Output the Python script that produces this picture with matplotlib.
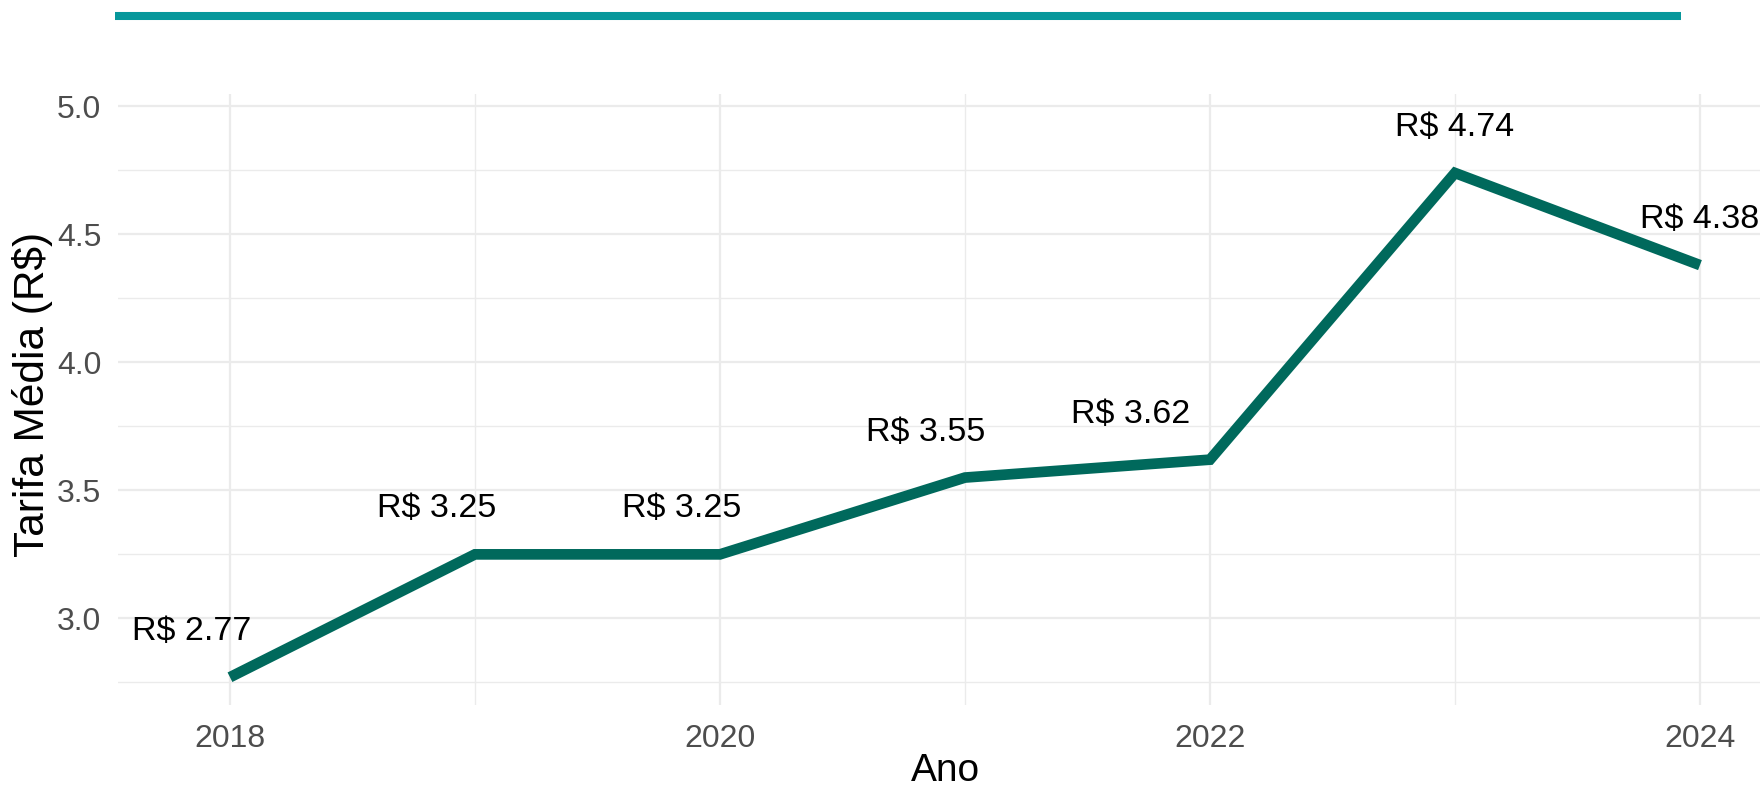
import matplotlib
matplotlib.use("Agg")
import matplotlib.pyplot as plt
from matplotlib.lines import Line2D
from matplotlib.ticker import MultipleLocator, FormatStrFormatter

years = [2018, 2019, 2020, 2021, 2022, 2023, 2024]
tarifa = [2.77, 3.25, 3.25, 3.55, 3.62, 4.74, 4.38]
labels = [f"R$ {v:.2f}" for v in tarifa]
# horizontal label shifts (pixels), as placed in the original
label_dx = [-38, -38, -38, -39, -79, 0, 0]

plt.rcParams["font.family"] = ["Liberation Sans", "DejaVu Sans"]

fig = plt.figure(figsize=(17.6, 7.89), dpi=100, facecolor="white")
W, H = 1760, 789
# panel runs slightly past the right edge, like the cropped original
ax = fig.add_axes([118 / W, 1 - 705 / H, (1772 - 118) / W, (705 - 94) / H])

ax.plot(years, tarifa, color="#00695c", linewidth=7.7, solid_joinstyle="miter",
        solid_capstyle="butt", zorder=3)

for x, y, txt, dx in zip(years, tarifa, labels, label_dx):
    ax.annotate(txt, xy=(x, y), xytext=(dx, 37), textcoords="offset pixels",
                ha="center", va="baseline", fontsize=24.5, color="black",
                zorder=4, annotation_clip=False)

ax.set_xlim(2017.543, 2024.294)
ax.set_ylim(2.6615, 5.0485)
ax.xaxis.set_major_locator(MultipleLocator(2))
ax.xaxis.set_minor_locator(MultipleLocator(1))
ax.yaxis.set_major_locator(MultipleLocator(0.5))
ax.yaxis.set_minor_locator(MultipleLocator(0.25))
ax.yaxis.set_major_formatter(FormatStrFormatter("%.1f"))

ax.grid(which="major", color="#ebebeb", linewidth=1.6)
ax.grid(which="minor", color="#ebebeb", linewidth=1.0)
ax.set_axisbelow(True)
for s in ax.spines.values():
    s.set_visible(False)
ax.tick_params(which="both", length=0, colors="#4d4d4d", labelsize=23)
ax.tick_params(axis="x", pad=14)
ax.tick_params(axis="y", pad=12)

ax.set_xlabel("Ano", fontsize=28, color="black")
ax.set_ylabel("Tarifa Média (R$)", fontsize=30.5, color="black")
ax.xaxis.set_label_coords(0.5, -0.078)
ax.yaxis.set_label_coords(-0.0393, 0.509)

# teal rule across the top
fig.add_artist(Line2D([115 / W, 1681 / W], [1 - 16 / H, 1 - 16 / H],
                      transform=fig.transFigure, color="#07979b", linewidth=5.8,
                      solid_capstyle="butt"))

fig.savefig("out.png", dpi=100, facecolor="white")
